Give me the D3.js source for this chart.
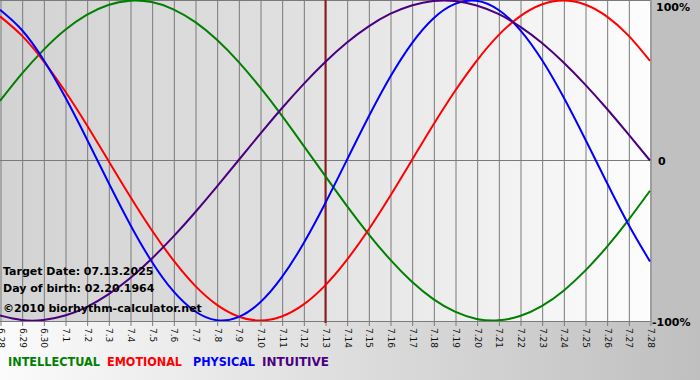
<!DOCTYPE html>
<html><head><meta charset="utf-8">
<script src="https://cdn.jsdelivr.net/npm/d3@7"></script>
<style>html,body{margin:0;padding:0;background:#fff;}svg{display:block;}</style>
</head><body>
<script>
const dayLabels = ["6.28","6.29","6.30","7.1","7.2","7.3","7.4","7.5","7.6","7.7","7.8","7.9","7.10","7.11","7.12","7.13","7.14","7.15","7.16","7.17","7.18","7.19","7.20","7.21","7.22","7.23","7.24","7.25","7.26","7.27","7.28"];
const intellectual = [0.372,0.541,0.690,0.815,0.910,0.972,0.999,0.990,0.945,0.866,0.756,0.618,0.458,0.282,0.095,-0.095,-0.282,-0.458,-0.618,-0.756,-0.866,-0.945,-0.990,-0.999,-0.972,-0.910,-0.815,-0.690,-0.541,-0.372,-0.189];
const emotional = [0.901,0.782,0.623,0.434,0.223,0,-0.223,-0.434,-0.623,-0.782,-0.901,-0.975,-1,-0.975,-0.901,-0.782,-0.623,-0.434,-0.223,0,0.223,0.434,0.623,0.782,0.901,0.975,1,0.975,0.901,0.782,0.623];
const physical = [0.942,0.817,0.631,0.398,0.136,-0.136,-0.398,-0.631,-0.817,-0.942,-0.998,-0.979,-0.888,-0.731,-0.520,-0.270,0,0.270,0.520,0.731,0.888,0.979,0.998,0.942,0.817,0.631,0.398,0.136,-0.136,-0.398,-0.631];
const intuitive = [-0.969,-0.997,-0.997,-0.969,-0.916,-0.837,-0.736,-0.614,-0.476,-0.325,-0.165,0,0.165,0.325,0.476,0.614,0.736,0.837,0.916,0.969,0.997,0.997,0.969,0.916,0.837,0.736,0.614,0.476,0.325,0.165,0];
const seriesNames = ["INTELLECTUAL","EMOTIONAL","PHYSICAL","INTUITIVE"];
const seriesColors = ["#008000","#ff0000","#0000ff","#4b0082"];
const yTickLabels = ["100%","0","-100%"];
const yTickValues = [1,0,-1];
const targetIndex = 15;
const infoLines = ["Target Date: 07.13.2025","Day of birth: 02.20.1964","\u00a92010 biorhythm-calculator.net"];

const W = 700, H = 380, plotW = 650, plotH = 321;
const svg = d3.select("body").append("svg").attr("width", W).attr("height", H);
const defs = svg.append("defs");
const g1 = defs.append("linearGradient").attr("id","outerGrad").attr("x1","0").attr("x2","1").attr("y1","0").attr("y2","0");
g1.append("stop").attr("offset","0").attr("stop-color","#fbfbfb");
g1.append("stop").attr("offset","1").attr("stop-color","#bfbfbf");
const g2 = defs.append("linearGradient").attr("id","plotGrad").attr("x1","0").attr("x2","1").attr("y1","0").attr("y2","0");
g2.append("stop").attr("offset","0").attr("stop-color","#d3d3d3");
g2.append("stop").attr("offset","0.4").attr("stop-color","#dedede");
g2.append("stop").attr("offset","1").attr("stop-color","#fdfdfd");

svg.append("rect").attr("width", W).attr("height", H).attr("fill","url(#outerGrad)");
svg.append("rect").attr("x", plotW).attr("y", 0).attr("width", W - plotW).attr("height", plotH).attr("fill","#c0c0c0");
svg.append("rect").attr("x", 0).attr("y", 0).attr("width", plotW).attr("height", plotH).attr("fill","url(#plotGrad)");

const x = d3.scaleLinear().domain([0, dayLabels.length - 1]).range([0, plotW]);
const y = d3.scaleLinear().domain([-1, 1]).range([320.5, 0.5]);

// vertical grid + bottom axis
const xAxis = d3.axisBottom(x).tickValues(d3.range(dayLabels.length)).tickFormat(i => dayLabels[i]).tickSize(-plotH).tickPadding(4);
const ax = svg.append("g").attr("transform", `translate(0.5,${plotH})`).call(xAxis);
ax.select(".domain").remove();
ax.selectAll(".tick line").attr("stroke","#7a7a7a").attr("y2", -plotH).attr("y1", 5);
ax.selectAll(".tick text")
  .attr("transform","rotate(90)")
  .attr("x", 7).attr("y", 0).attr("dy","0.35em")
  .style("text-anchor","start")
  .attr("font-family","DejaVu Sans, Verdana, sans-serif").attr("font-size", 9).attr("fill","#111");

// horizontal lines
svg.append("line").attr("x1",0).attr("x2",plotW).attr("y1",0.5).attr("y2",0.5).attr("stroke","#7a7a7a");
svg.append("line").attr("x1",0).attr("x2",plotW).attr("y1",y(0)).attr("y2",y(0)).attr("stroke","#7a7a7a");
svg.append("line").attr("x1",0).attr("x2",plotW).attr("y1",plotH+0.5).attr("y2",plotH+0.5).attr("stroke","#7a7a7a");

// target line
svg.append("line").attr("x1", x(targetIndex)+0.5).attr("x2", x(targetIndex)+0.5).attr("y1",0).attr("y2",plotH+2)
  .attr("stroke","#8b1a1a").attr("stroke-width",2);

// right labels
const labelX = [656, 658, 652];
const labelDy = [10, 4, 5];
svg.append("g").selectAll("text").data(yTickValues).join("text")
  .attr("x", (d,i) => labelX[i])
  .attr("y", (d,i) => y(d) + labelDy[i])
  .attr("font-family","DejaVu Sans, Verdana, sans-serif").attr("font-weight","bold").attr("font-size",11).attr("fill","#000")
  .text((d,i) => yTickLabels[i]);

// curves
const line = d3.line().x((d,i) => x(i)).y(d => y(d)).curve(d3.curveNatural);
const allSeries = [intellectual, emotional, physical, intuitive];
const clip = defs.append("clipPath").attr("id","clipPlot");
clip.append("rect").attr("x",0).attr("y",0).attr("width",plotW+1).attr("height",plotH);
svg.append("g").attr("clip-path","url(#clipPlot)").selectAll("path").data(allSeries).join("path")
  .attr("d", line).attr("fill","none")
  .attr("stroke", (d,i) => seriesColors[i]).attr("stroke-width", 2);

// info text
svg.append("g").selectAll("text").data(infoLines).join("text")
  .attr("x", 3).attr("y", (d,i) => [275, 292, 312][i])
  .attr("font-family","DejaVu Sans, Verdana, sans-serif").attr("font-weight","bold").attr("font-size",11).attr("fill","#000")
  .text(d => d);

// legend
const legendX = [8, 107, 193, 262];
const legendW = [92, 75, 62, 67];
svg.append("g").selectAll("text").data(seriesNames).join("text")
  .attr("x", (d,i) => legendX[i]).attr("y", 366)
  .attr("textLength", (d,i) => legendW[i]).attr("lengthAdjust","spacingAndGlyphs")
  .attr("font-family","DejaVu Sans, Verdana, sans-serif").attr("font-weight","bold").attr("font-size",12)
  .attr("fill", (d,i) => seriesColors[i])
  .text(d => d);
</script>
</body></html>
